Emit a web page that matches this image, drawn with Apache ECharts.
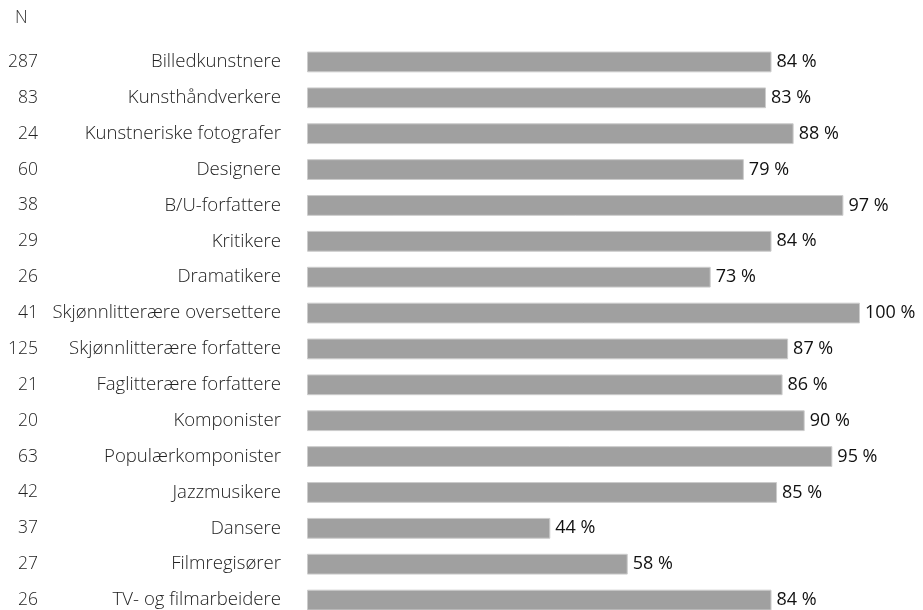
<!DOCTYPE html>
<html>
<head>
<meta charset="utf-8">
<script src="https://cdn.jsdelivr.net/npm/echarts@6/dist/echarts.min.js"></script>
<style>html,body{margin:0;padding:0;background:#fff;overflow:hidden;}#c{width:923px;height:620px;}</style>
</head>
<body>
<div id="c"></div>
<script>
const categories = ["Billedkunstnere","Kunsthåndverkere","Kunstneriske fotografer","Designere","B/U-forfattere","Kritikere","Dramatikere","Skjønnlitterære oversettere","Skjønnlitterære forfattere","Faglitterære forfattere","Komponister","Populærkomponister","Jazzmusikere","Dansere","Filmregisører","TV- og filmarbeidere"];
const nValues = [287,83,24,60,38,29,26,41,125,21,20,63,42,37,27,26];
const percentValues = [84,83,88,79,97,84,73,100,87,86,90,95,85,44,58,84];

const font = "'Open Sans', 'Noto Sans', sans-serif";
const chart = echarts.init(document.getElementById('c'));
chart.setOption({
  animation: false,
  title: {text: 'N', left: 15, top: 9, padding: 0, textStyle: {fontFamily: font, fontSize: 17.5, fontWeight: 300, color: '#333'}},
  grid: {left: 307, right: 63, top: 44, bottom: 2, containLabel: false},
  xAxis: {type: 'value', min: 0, max: 100, show: false},
  yAxis: [
    {type: 'category', data: categories, inverse: true, axisLine: {show: false}, axisTick: {show: false},
     axisLabel: {margin: 26, fontFamily: font, fontSize: 18.6, fontWeight: 300, color: '#222'}},
    {type: 'category', data: nValues.map(String), inverse: true, position: 'left', axisLine: {show: false}, axisTick: {show: false},
     axisLabel: {margin: 269, fontFamily: font, fontSize: 17.5, fontWeight: 300, color: '#222'}}
  ],
  series: [{
    type: 'bar', data: percentValues, yAxisIndex: 0, barCategoryGap: '42%',
    itemStyle: {color: '#a0a0a0', borderColor: '#cccccc', borderWidth: 1},
    label: {show: true, position: 'right', distance: 5, formatter: '{c} %', fontFamily: font, fontSize: 18, color: '#111'}
  }]
});
</script>
</body>
</html>
